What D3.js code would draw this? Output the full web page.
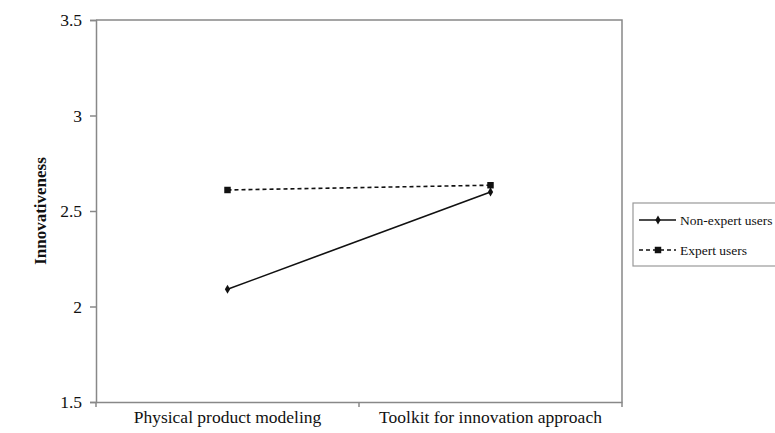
<!DOCTYPE html>
<html><head><meta charset="utf-8">
<script src="https://cdn.jsdelivr.net/npm/d3@7"></script>
<style>body{margin:0;background:#fff}</style>
</head><body>
<svg id="c" width="775" height="433"></svg>
<script>
const categories = ["Physical product modeling", "Toolkit for innovation approach"];
const nonExpert = [2.09, 2.60];
const expert = [2.61, 2.635];
const yTicks = [1.5, 2, 2.5, 3, 3.5];
const yTickLabels = ["1.5", "2", "2.5", "3", "3.5"];
const seriesNames = ["Non-expert users", "Expert users"];

const svg = d3.select("#c");
const F = '"Liberation Serif", "Times New Roman", Tinos, serif';
const m = {l: 96, r: 622, t: 20, b: 402};
const x = d3.scaleBand().domain(categories).range([m.l, m.r]);
const y = d3.scaleLinear().domain([1.5, 3.5]).range([m.b, m.t]);
const cx = d => x(d) + x.bandwidth()/2;

function txt(sel) {
  return sel.style("font-family", F, "important");
}

svg.append("path").attr("d", `M${m.l},${m.t}H${m.r}V${m.b}`)
  .attr("fill", "none").attr("stroke", "#888").attr("stroke-width", 1.5);

const yAxis = svg.append("g").attr("transform", `translate(${m.l},0)`)
  .call(d3.axisLeft(y).tickValues(yTicks).tickFormat(() => "").tickSize(6));
const xAxis = svg.append("g").attr("transform", `translate(0,${m.b})`)
  .call(d3.axisBottom(x).tickFormat(() => "").tickSize(0));
svg.append("g").selectAll("line").data([m.l, (m.l+m.r)/2, m.r]).join("line")
  .attr("x1", d => d).attr("x2", d => d).attr("y1", m.b).attr("y2", m.b + 5)
  .attr("stroke", "#888").attr("stroke-width", 1.5);
[yAxis, xAxis].forEach(g => {
  g.selectAll("path,line").attr("stroke", "#888").attr("stroke-width", 1.5);
  g.selectAll("text").remove();
});

yTicks.forEach((v, i) => {
  txt(svg.append("text")).attr("x", m.l - 14).attr("y", y(v)).attr("dy", "0.35em")
    .attr("text-anchor", "end").attr("font-size", 17.5)
    .attr("fill", "#111").text(yTickLabels[i]);
});
categories.forEach(c => {
  txt(svg.append("text")).attr("x", cx(c)).attr("y", m.b + 21)
    .attr("text-anchor", "middle").attr("font-size", 17.5)
    .attr("fill", "#111").text(c);
});

txt(svg.append("text")).attr("transform", `translate(46,${(m.t+m.b)/2}) rotate(-90)`)
  .attr("text-anchor", "middle").attr("font-size", 17)
  .attr("font-weight", "bold").attr("fill", "#111").text("Innovativeness");

const line = d3.line().x((d, i) => cx(categories[i])).y(d => y(d));
svg.append("path").datum(expert).attr("d", line).attr("fill", "none")
  .attr("stroke", "#111").attr("stroke-width", 1.6).attr("stroke-dasharray", "4,3");
svg.append("path").datum(nonExpert).attr("d", line).attr("fill", "none")
  .attr("stroke", "#111").attr("stroke-width", 1.6);

const sq = d3.symbol().type(d3.symbolSquare).size(42);
const di = d3.symbol().type(d3.symbolDiamond).size(24);
svg.selectAll(".ex").data(expert).join("path")
  .attr("transform", (d, i) => `translate(${cx(categories[i])},${y(d)})`).attr("d", sq).attr("fill", "#111");
svg.selectAll(".ne").data(nonExpert).join("path")
  .attr("transform", (d, i) => `translate(${cx(categories[i])},${y(d)})`).attr("d", di).attr("fill", "#111");

svg.append("rect").attr("x", 633).attr("y", 203).attr("width", 150).attr("height", 63)
  .attr("fill", "#fff").attr("stroke", "#999").attr("stroke-width", 1.2);
const rows = [{name: seriesNames[0], dash: null, sym: di}, {name: seriesNames[1], dash: "4,3", sym: sq}];
rows.forEach((r, i) => {
  const yy = 220 + i * 30;
  svg.append("line").attr("x1", 639).attr("x2", 676).attr("y1", yy).attr("y2", yy)
    .attr("stroke", "#111").attr("stroke-width", 1.5).attr("stroke-dasharray", r.dash);
  svg.append("path").attr("transform", `translate(658,${yy})`).attr("d", r.sym).attr("fill", "#111");
  txt(svg.append("text")).attr("x", 680).attr("y", yy + 5).attr("font-size", 13.5)
    .attr("fill", "#111").text(r.name);
});
</script>
</body></html>
